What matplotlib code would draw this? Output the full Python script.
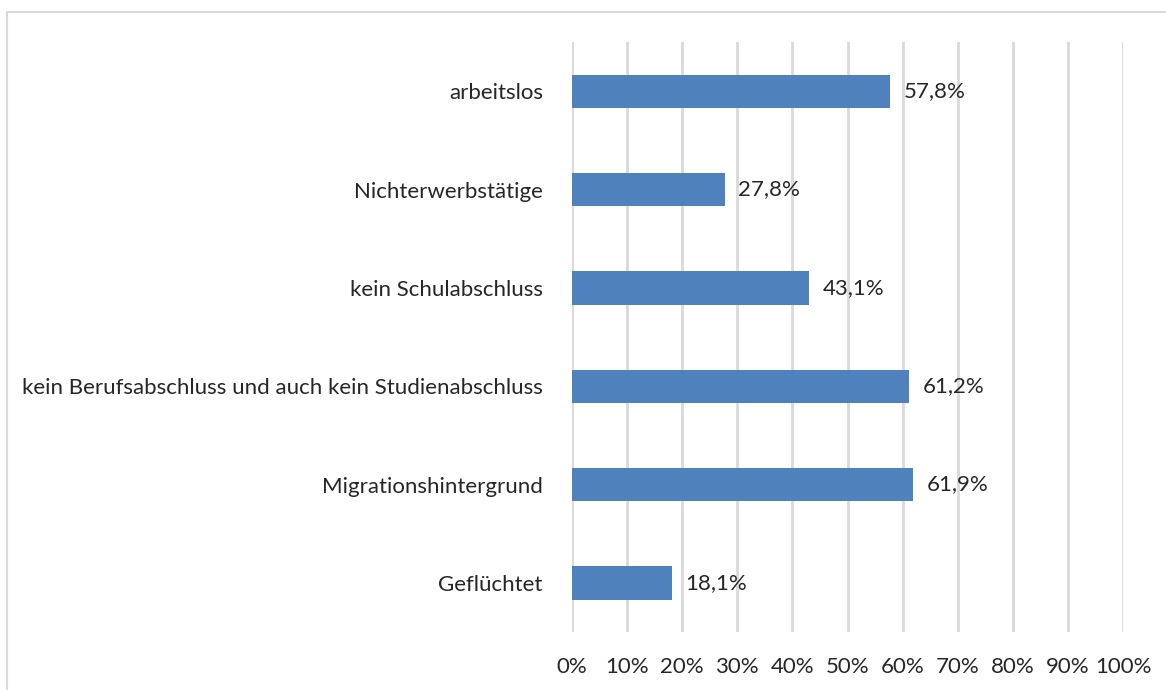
import matplotlib.pyplot as plt
from matplotlib.patches import Rectangle

# ----------------------------
# Data
# ----------------------------
categories = [
    "arbeitslos",
    "Nichterwerbstätige",
    "kein Schulabschluss",
    "kein Berufsabschluss und auch kein Studienabschluss",
    "Migrationshintergrund",
    "Geflüchtet",
]
values = [57.8, 27.8, 43.1, 61.2, 61.9, 18.1]
ticks = list(range(0, 101, 10))

plt.rcParams["font.family"] = ["Lato", "DejaVu Sans"]
FS = 16

fig = plt.figure(figsize=(11.66, 6.90), dpi=100)
ax = fig.add_axes([0.4906, 0.084, 0.4725, 0.855])

# outer border like the original chart frame
fig.patches.append(Rectangle((0.006, -0.01), 1.0, 0.993, transform=fig.transFigure,
                             fill=False, edgecolor="#D9D9D9", linewidth=1.5))

y = list(range(len(categories)))
ax.barh(y, values, height=0.34, color="#4F81BD", zorder=3)
for yi, v in zip(y, values):
    ax.text(v + 2.4, yi, f"{v:.1f}%".replace(".", ","), va="center", ha="left",
            fontsize=FS, color="#262626")

ax.set_xlim(0, 100)
ax.set_ylim(len(categories) - 0.5, -0.5)
ax.set_xticks(ticks)
ax.set_xticklabels([f"{t}%" for t in ticks], fontsize=FS, color="#262626")
ax.set_yticks(y)
ax.set_yticklabels(categories, fontsize=FS, color="#262626")
ax.tick_params(axis="both", length=0)
ax.tick_params(axis="y", pad=21)
ax.tick_params(axis="x", pad=18)

ax.grid(axis="x", color="#D9D9D9", linewidth=2, zorder=0)
for s in ax.spines.values():
    s.set_visible(False)

fig.savefig("out.png", dpi=100)
